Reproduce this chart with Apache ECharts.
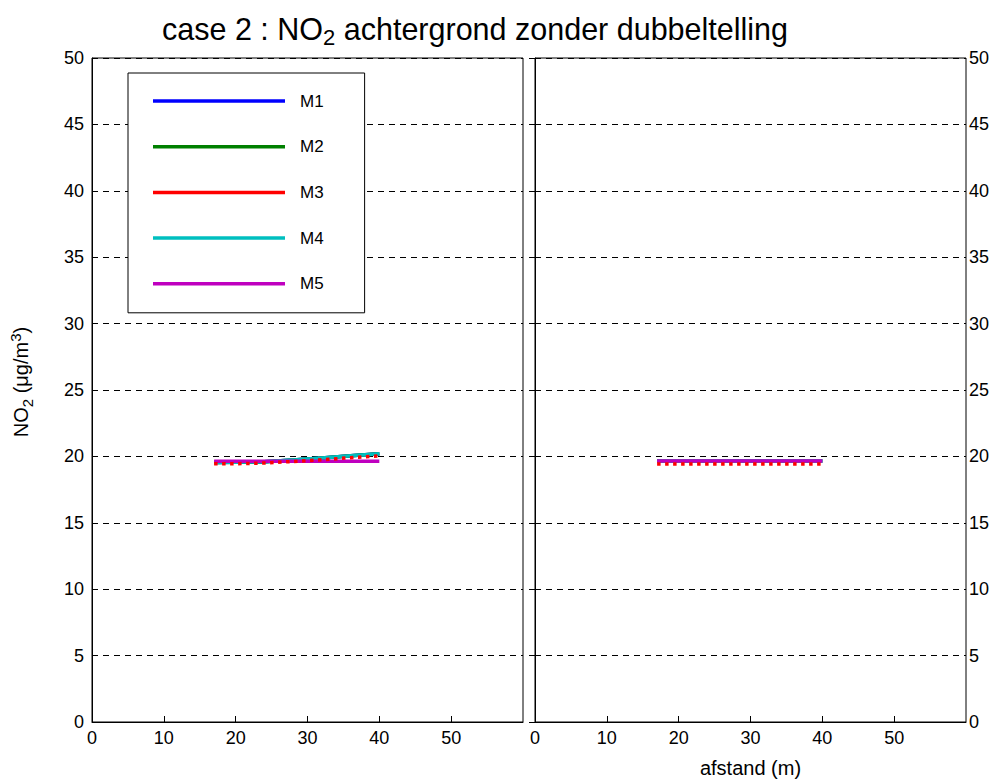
<!DOCTYPE html>
<html>
<head>
<meta charset="utf-8">
<script src="https://cdn.jsdelivr.net/npm/echarts@6/dist/echarts.min.js"></script>
<style>html,body{margin:0;padding:0;background:#fff}#c{width:997px;height:783px}</style>
</head>
<body>
<div id="c"></div>
<script>
// ---- data ----
const seriesNames = ['M1', 'M2', 'M3', 'M4', 'M5'];
const xTicks = [0, 10, 20, 30, 40, 50];
const yTicks = [0, 5, 10, 15, 20, 25, 30, 35, 40, 45, 50];
// left panel
const xLeft = [17, 20, 24, 28, 32, 36, 40];
const leftM1 = [19.55, 19.56, 19.6, 19.72, 19.88, 20.04, 20.2];
const leftM2 = [19.55, 19.56, 19.6, 19.72, 19.88, 20.04, 20.2];
const leftM3 = [19.45, 19.45, 19.5, 19.62, 19.75, 19.9, 20.03];
const leftM4 = [19.55, 19.56, 19.6, 19.72, 19.88, 20.04, 20.2];
const leftM5 = [19.63, 19.63, 19.63, 19.63, 19.63, 19.63, 19.63];
// right panel
const xRight = [17, 20, 24, 28, 32, 36, 40];
const rightM1 = [19.65, 19.65, 19.65, 19.65, 19.65, 19.65, 19.65];
const rightM2 = [19.65, 19.65, 19.65, 19.65, 19.65, 19.65, 19.65];
const rightM3 = [19.43, 19.43, 19.43, 19.43, 19.43, 19.43, 19.43];
const rightM4 = [19.65, 19.65, 19.65, 19.65, 19.65, 19.65, 19.65];
const rightM5 = [19.65, 19.65, 19.65, 19.65, 19.65, 19.65, 19.65];

// ---- styles ----
const colors = ['#0000ff', '#008000', '#ff0000', '#00bfbf', '#bf00bf'];
const FONT = 'Liberation Sans, Arial, sans-serif';
const pair = (xs, ys) => xs.map((x, i) => [x, ys[i]]);

const leftData = [leftM1, leftM2, leftM3, leftM4, leftM5];
const rightData = [rightM1, rightM2, rightM3, rightM4, rightM5];

function mkSeries(idx, xs, arrs) {
  return seriesNames.map((n, i) => ({
    name: n,
    type: 'line',
    xAxisIndex: idx,
    yAxisIndex: idx,
    data: pair(xs, arrs[i]),
    symbol: 'none',
    silent: true,
    animation: false,
    z: i === 2 ? 10 : 2 + i,
    lineStyle: {
      color: colors[i],
      width: 3.5,
      type: i === 2 ? [3.5, 4.5] : 'solid',
      cap: 'butt'
    },
    itemStyle: { color: colors[i] }
  }));
}

const xAxisBase = {
  type: 'value', min: 0, max: 60, interval: 10,
  axisLine: { show: true, lineStyle: { color: '#000', width: 1 } },
  axisTick: { show: true, inside: true, length: 6, lineStyle: { color: '#000' } },
  axisLabel: { color: '#000', fontSize: 18, fontFamily: FONT, margin: 7, showMaxLabel: false,
    formatter: v => (v === 60 ? '' : String(v)) },
  splitLine: { show: false }
};
const yAxisBase = {
  type: 'value', min: 0, max: 50, interval: 5,
  axisLine: { show: true, lineStyle: { color: '#000', width: 1 } },
  axisTick: { show: true, inside: true, length: 6, lineStyle: { color: '#000' } },
  axisLabel: { color: '#000', fontSize: 18, fontFamily: FONT },
  splitLine: { show: true, lineStyle: { color: '#000', width: 1, type: [6, 5] } }
};

const option = {
  backgroundColor: '#fff',
  animation: false,
  title: {
    text: '{a|case 2 : NO}{s|2}{a| achtergrond zonder dubbeltelling}',
    left: 470, top: 6, textAlign: 'center',
    textStyle: {
      fontFamily: FONT, color: '#000', fontWeight: 'normal',
      rich: {
        a: { fontSize: 30.5, fontFamily: FONT, fontWeight: 'normal', color: '#000', lineHeight: 36 },
        s: { fontSize: 22, fontFamily: FONT, fontWeight: 'normal', color: '#000', lineHeight: 36, padding: [16, 0, 0, 0] }
      }
    }
  },
  legend: {
    orient: 'vertical',
    left: 128, top: 73,
    padding: [18, 41, 19, 25],
    itemWidth: 132, itemHeight: 3.5, itemGap: 25.7,
    borderColor: '#000', borderWidth: 1, backgroundColor: '#fff',
    textStyle: { fontSize: 17, fontFamily: FONT, color: '#000', lineHeight: 20, padding: [0, 0, 0, 10] },
    data: seriesNames.map((n, i) => ({ name: n, icon: 'rect', itemStyle: { color: colors[i], borderWidth: 0 } })),
    selectedMode: false,
    z: 20
  },
  grid: [
    { left: 92, right: 474, top: 58, bottom: 61, show: true, borderColor: '#000', borderWidth: 1, backgroundColor: '#fff' },
    { left: 535, right: 31, top: 58, bottom: 61, show: true, borderColor: '#000', borderWidth: 1, backgroundColor: '#fff' }
  ],
  xAxis: [
    Object.assign({}, xAxisBase, { gridIndex: 0 }),
    Object.assign({}, xAxisBase, { gridIndex: 1, name: 'afstand (m)', nameLocation: 'middle', nameGap: 36,
      nameTextStyle: { fontSize: 20, fontFamily: FONT, color: '#000' } })
  ],
  yAxis: [
    Object.assign({}, yAxisBase, { gridIndex: 0, position: 'left',
      axisLabel: Object.assign({}, yAxisBase.axisLabel, { margin: 8 }) }),
    Object.assign({}, yAxisBase, { gridIndex: 1, position: 'right',
      axisLabel: Object.assign({}, yAxisBase.axisLabel, { margin: 3 }) })
  ],
  graphic: [{
    type: 'text',
    x: 21, y: 382,
    rotation: Math.PI / 2,
    style: {
      text: '{a|NO}{s|2}{a| (μg/m}{p|3}{a|)}',
      align: 'center', verticalAlign: 'middle',
      fill: '#000',
      rich: {
        a: { fontSize: 20, fontFamily: FONT, fill: '#000', lineHeight: 26 },
        s: { fontSize: 15, fontFamily: FONT, fill: '#000', lineHeight: 26, padding: [12, 0, 0, 0] },
        p: { fontSize: 15, fontFamily: FONT, fill: '#000', lineHeight: 26, padding: [0, 0, 12, 0] }
      }
    }
  }],
  series: mkSeries(0, xLeft, leftData).concat(mkSeries(1, xRight, rightData))
};

const chart = echarts.init(document.getElementById('c'), null, { renderer: 'svg' });
chart.setOption(option);
</script>
</body>
</html>
